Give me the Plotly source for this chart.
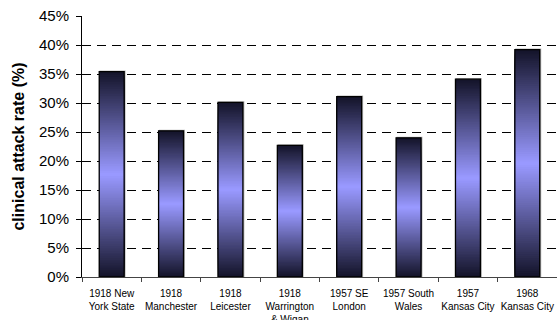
import plotly.graph_objects as go

categories = ["1918 New<br>York State", "1918<br>Manchester", "1918<br>Leicester",
              "1918<br>Warrington<br>& Wigan", "1957 SE<br>London", "1957 South<br>Wales",
              "1957<br>Kansas City", "1968<br>Kansas City"]
attack_rate = [0.354, 0.252, 0.301, 0.227, 0.311, 0.240, 0.341, 0.392]

N_LAYERS = 60
dark = (20, 20, 42)
light = (153, 153, 255)

fig = go.Figure()

# subtle shadow behind bars
fig.add_trace(go.Bar(x=categories, y=[v + 0.002 for v in attack_rate], base=0,
                     width=0.44, offset=-0.205, marker=dict(color="#b8b8b8", line=dict(width=0)),
                     hoverinfo="skip", showlegend=False))

# nested layers: outer = dark, inner = light -> vertical gradient dark/light/dark
for k in range(N_LAYERS):
    t = k / (N_LAYERS - 1)
    c = tuple(int(round(d + (l - d) * t)) for d, l in zip(dark, light))
    fig.add_trace(go.Bar(
        x=categories,
        y=[v * (1 - k / N_LAYERS) for v in attack_rate],
        base=[v * k / (2 * N_LAYERS) for v in attack_rate],
        width=0.42,
        marker=dict(color="rgb(%d,%d,%d)" % c, line=dict(width=0)),
        hoverinfo="skip", showlegend=False))

# outline
fig.add_trace(go.Bar(x=categories, y=attack_rate, base=0, width=0.42,
                     marker=dict(color="rgba(0,0,0,0)", line=dict(color="black", width=1.3)),
                     showlegend=False))

fig.update_layout(
    width=557, height=320,
    margin=dict(l=82, r=0, t=16, b=43),
    barmode="overlay",
    plot_bgcolor="white", paper_bgcolor="white",
    font=dict(family="Liberation Sans, Arial, sans-serif", color="black"),
)
fig.update_yaxes(
    range=[0, 0.45], dtick=0.05, tickformat=".0%", automargin=False,
    showgrid=True, gridcolor="black", gridwidth=1, griddash="9px,6px",
    zeroline=False, showline=True, linecolor="black", linewidth=1,
    ticks="outside", ticklen=5, tickcolor="black",
    tickfont=dict(size=15), ticklabelstandoff=4,
    title=dict(text="<b>clinical attack rate (%)</b>", font=dict(size=16), standoff=10),
)
fig.update_xaxes(
    showline=True, linecolor="#444", linewidth=1, automargin=False,
    ticks="outside", tickson="boundaries", ticklen=4, tickcolor="#444",
    tickfont=dict(size=10), tickangle=0, ticklabelstandoff=7,
)

fig.write_html("out.html")
